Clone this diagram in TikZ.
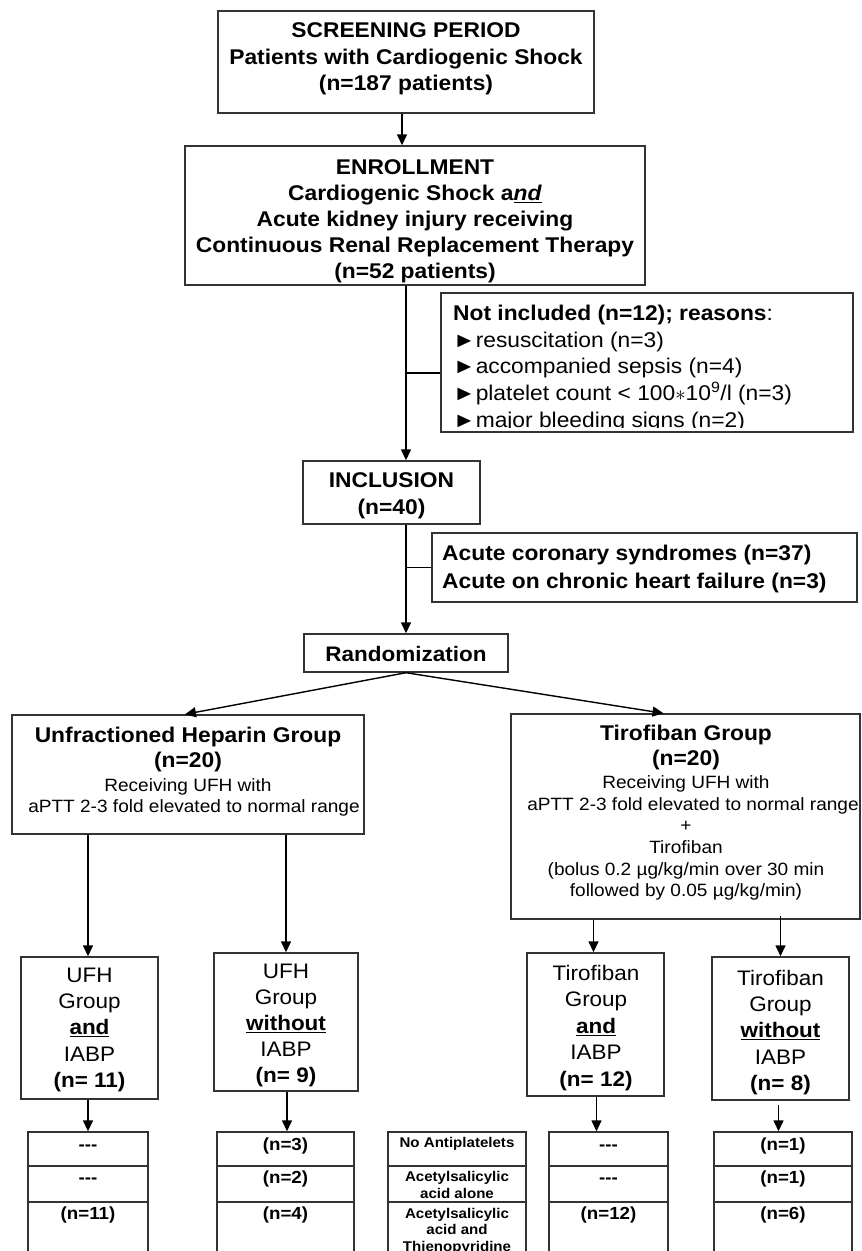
\documentclass[tikz,border=0pt]{standalone}
\usepackage{fontspec}
\setmainfont[FakeStretch=1.07]{Liberation Sans}
\usetikzlibrary{arrows.meta}
\newcommand{\dsh}{-{}-{}-}
\begin{document}
\begin{tikzpicture}[x=1pt,y=-1pt,
  box/.style={draw=black!80, line width=1.4pt, inner sep=0pt},
  arr/.style={line width=1.4pt, -{Triangle[length=11pt,width=10pt]}},
  ln/.style={line width=1.4pt},
  txt/.style={inner sep=0pt, align=center},
  txl/.style={inner sep=0pt, align=left}]
\useasboundingbox (0,0) rectangle (862,1251);
\clip (0,0) rectangle (862,1251);
\fill[white] (0,0) rectangle (862,1251);

% ---- boxes ----
\node[box, minimum width=376pt, minimum height=102pt] (screen) at (406,62) {};
\node[txt, anchor=north, font=\fontsize{21.3}{26.3}\selectfont\bfseries] (screentx) at (406,22.75)
  {SCREENING PERIOD\\Patients with Cardiogenic Shock\\(n=187 patients)};

\node[box, minimum width=460pt, minimum height=139pt] (enroll) at (415,215.5) {};
\node[txt, anchor=north, font=\fontsize{21.3}{25.8}\selectfont\bfseries] (enrolltx) at (415,159.75)
  {ENROLLMENT\\Cardiogenic Shock a\underline{\textit{nd}}\\Acute kidney injury receiving\\Continuous Renal Replacement Therapy\\(n=52 patients)};

\node[box, minimum width=412pt, minimum height=139pt] (notinc) at (647,362.5) {};
\begin{scope}
\clip (441,293) rectangle (853,427.5);
\node[txl, anchor=north west, font=\fontsize{21.3}{26.7}\selectfont] (notinctx) at (453,304.75)
  {\textbf{Not included (n=12); reasons}:\\
   ►resuscitation (n=3)\\
   ►accompanied sepsis (n=4)\\
   ►platelet count < 100$\ast$10\textsuperscript{9}/l (n=3)\\
   ►major bleeding signs (n=2)};
\end{scope}

\node[box, minimum width=177pt, minimum height=63pt] (incl) at (391.5,492.5) {};
\node[txt, anchor=north, font=\fontsize{21.3}{27}\selectfont\bfseries] (incltx) at (391.5,472.75)
  {INCLUSION\\(n=40)};

\node[box, minimum width=425pt, minimum height=69pt] (acute) at (644.5,567.5) {};
\node[txl, anchor=north west, font=\fontsize{21.3}{28}\selectfont\bfseries] (acutetx) at (442,544.75)
  {Acute coronary syndromes (n=37)\\Acute on chronic heart failure (n=3)};

\node[box, minimum width=204pt, minimum height=38pt] (random) at (406,653) {};
\node[txt, anchor=base, font=\fontsize{21}{24}\selectfont\bfseries] (randomtx) at (406,661.7) {Randomization};

\node[box, minimum width=352pt, minimum height=119pt] (ufh) at (188,774.5) {};
\node[txt, anchor=north, font=\fontsize{21.3}{25}\selectfont\bfseries] (ufhtx) at (188,726.5)
  {Unfractioned Heparin Group\\(n=20)};
\node[txt, anchor=north, font=\fontsize{17.8}{21.5}\selectfont] (ufhtx2) at (188,777.95)
  {Receiving UFH with\\\hspace*{12pt}aPTT 2-3 fold elevated to normal range};

\node[box, minimum width=349pt, minimum height=205pt] (tiro) at (685.5,816.5) {};
\node[txt, anchor=north, font=\fontsize{21.3}{25}\selectfont\bfseries] (tirotx) at (686,724.75)
  {Tirofiban Group\\(n=20)};
\node[txt, anchor=north, font=\fontsize{17.8}{21.7}\selectfont] (tirotx2) at (686,775.25)
  {Receiving UFH with\\\hspace*{14pt}aPTT 2-3 fold elevated to normal range\\+\\Tirofiban\\(bolus 0.2 µg/kg/min over 30 min\\followed by 0.05 µg/kg/min)};

% ---- subgroup boxes ----
\node[box, minimum width=137pt, minimum height=142pt] (ufhA) at (89.5,1028) {};
\node[txt, anchor=north, font=\fontsize{21}{26.3}\selectfont] (ufhAtx) at (89.5,967.7)
  {UFH\\Group\\\textbf{\underline{and}}\\IABP\\\textbf{(n= 11)}};

\node[box, minimum width=144pt, minimum height=138pt] (ufhW) at (286,1022) {};
\node[txt, anchor=north, font=\fontsize{21}{26}\selectfont] (ufhWtx) at (286,964)
  {UFH\\Group\\\textbf{\underline{without}}\\IABP\\\textbf{(n= 9)}};

\node[box, minimum width=137pt, minimum height=143pt] (tiroA) at (595.5,1024.5) {};
\node[txt, anchor=north, font=\fontsize{21}{26.4}\selectfont] (tiroAtx) at (596,965)
  {Tirofiban\\Group\\\textbf{\underline{and}}\\IABP\\\textbf{(n= 12)}};

\node[box, minimum width=137pt, minimum height=143pt] (tiroW) at (780.5,1028.5) {};
\node[txt, anchor=north, font=\fontsize{21}{26.25}\selectfont] (tiroWtx) at (780.5,970)
  {Tirofiban\\Group\\\textbf{\underline{without}}\\IABP\\\textbf{(n= 8)}};

% ---- tables ----
\foreach \n/\cx/\w in {t1/88/120, t2/285.5/137, lab/457/138, t3/608.5/119, t4/783/138} {
  \node[box, minimum width=\w pt, minimum height=34pt] (\n-a) at (\cx,1149) {};
  \node[box, minimum width=\w pt, minimum height=36pt] (\n-b) at (\cx,1184) {};
  \node[box, minimum width=\w pt, minimum height=68pt] (\n-c) at (\cx,1236) {};
}
\foreach \n/\cx/\a/\b/\c in {t1/88/\dsh/\dsh/(n=11), t2/285.5/(n=3)/(n=2)/(n=4), t3/608.5/\dsh/\dsh/(n=12), t4/783/(n=1)/(n=1)/(n=6)} {
  \node[txt, anchor=base, font=\fontsize{17.5}{20}\selectfont\bfseries] (\n-atx) at (\cx,1150) {\a};
  \node[txt, anchor=base, font=\fontsize{17.5}{20}\selectfont\bfseries] (\n-btx) at (\cx,1183.3) {\b};
  \node[txt, anchor=base, font=\fontsize{17.5}{20}\selectfont\bfseries] (\n-ctx) at (\cx,1219.7) {\c};
}
\node[txt, anchor=base, font=\fontsize{14.1}{16.7}\selectfont\bfseries] (lab-atx) at (457,1147.7) {No Antiplatelets};
\node[txt, anchor=north, font=\fontsize{14.1}{16.7}\selectfont\bfseries] (lab-btx) at (457,1170.9) {Acetylsalicylic\\acid alone};
\node[txt, anchor=north, font=\fontsize{14.1}{16.7}\selectfont\bfseries] (lab-ctx) at (457,1207.6) {Acetylsalicylic\\acid and\\Thienopyridine};

% ---- connectors ----
\draw[arr] ([xshift=-4pt]screen.south) -- ([xshift=-4pt]screen.south |- enroll.north);
\coordinate (trunk1) at ([xshift=-9pt]enroll.south);
\coordinate (br1) at (406,373);
\draw[arr] (trunk1) -- (trunk1 |- incl.north);
\draw[ln] (br1) -- (br1 -| notinc.west);
\draw[arr] (incl.south -| random.north) -- (random.north);
\draw[ln] (acute.west -| random.north) -- (acute.west);
\draw[arr] (random.south) -- ([xshift=-3pt]ufh.north);
\draw[arr] (random.south) -- ([xshift=-22pt]tiro.north);
\draw[arr] (ufh.south -| t1-a.north) -- (t1-a.north |- ufhA.north);
\draw[arr] (ufh.south -| ufhW.north) -- (ufhW.north);
\draw[arr] ([xshift=-2pt]tiro.south -| tiroA.north) -- ([xshift=-2pt]tiroA.north);
\draw[arr] ([yshift=4pt]tiro.south -| tiroW.north) -- (tiroW.north);
\draw[arr] (ufhA.south -| t1-a.north) -- (t1-a.north);
\draw[arr] ([xshift=1pt]ufhW.south) -- ([xshift=1pt]ufhW.south |- t2-a.north);
\draw[arr] ([xshift=1pt]tiroA.south) -- ([xshift=1pt]tiroA.south |- t3-a.north);
\draw[arr] ([xshift=-2pt,yshift=-4pt]tiroW.south) -- ([xshift=-2pt]tiroW.south |- t4-a.north);
\end{tikzpicture}
\end{document}
